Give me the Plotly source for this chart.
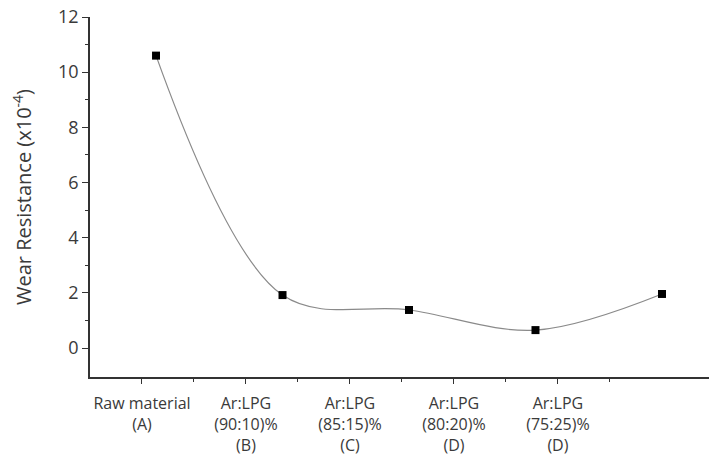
import plotly.graph_objects as go

categories = ["Raw material<br>(A)", "Ar:LPG<br>(90:10)%<br>(B)", "Ar:LPG<br>(85:15)%<br>(C)",
              "Ar:LPG<br>(80:20)%<br>(D)", "Ar:LPG<br>(75:25)%<br>(D)"]
wear_resistance = [10.6, 1.92, 1.38, 0.65, 1.96]
y_ticks = [0, 2, 4, 6, 8, 10, 12]

idx = list(range(len(categories)))

fig = go.Figure()
# anchor trace for the labelled category axis (draws nothing)
fig.add_trace(go.Scatter(x=idx, y=[None] * len(idx), xaxis="x", mode="markers",
                         marker=dict(opacity=0), hoverinfo="skip", showlegend=False))
fig.add_trace(go.Scatter(
    x=idx, y=wear_resistance, xaxis="x2", mode="lines+markers",
    line=dict(shape="spline", smoothing=1.0, color="#8a8a8a", width=1.2),
    marker=dict(symbol="square", size=8, color="black"),
    showlegend=False,
))

font = dict(family="Open Sans, Liberation Sans, sans-serif", size=14, color="#3a3a3a")
fig.update_layout(
    width=717, height=457,
    margin=dict(l=82, r=8, t=9, b=88),
    paper_bgcolor="white", plot_bgcolor="white",
    font=font,
    xaxis=dict(
        range=[-0.5, 5.53], tickmode="array", tickvals=idx, ticktext=categories,
        showline=True, linecolor="#333333", linewidth=1.5,
        ticks="outside", ticklen=5, tickcolor="#333333", showgrid=False, zeroline=False,
        minor=dict(tickmode="array", tickvals=[i + 0.5 for i in idx], ticks="outside",
                   ticklen=3, tickcolor="#333333"),
        tickfont=dict(size=16), fixedrange=True, automargin=False, ticklabelstandoff=6,
        ticklabeloverflow="allow",
    ),
    xaxis2=dict(range=[-0.522, 4.435], overlaying="x", visible=False),
    yaxis=dict(
        range=[-1.05, 12], tickvals=y_ticks,
        showline=True, linecolor="#333333", linewidth=1.5,
        ticks="outside", ticklen=6, tickcolor="#333333", showgrid=False, zeroline=False,
        minor=dict(tickmode="array", tickvals=[t + 1 for t in y_ticks[:-1]], ticks="outside",
                   ticklen=3, tickcolor="#333333"),
        tickfont=dict(size=18), automargin="left", ticklabeloverflow="allow",
        title=dict(text="Wear Resistance (x10<sup>-4</sup>)", font=dict(size=20), standoff=22),
    ),
)

fig.write_html("out.html")
